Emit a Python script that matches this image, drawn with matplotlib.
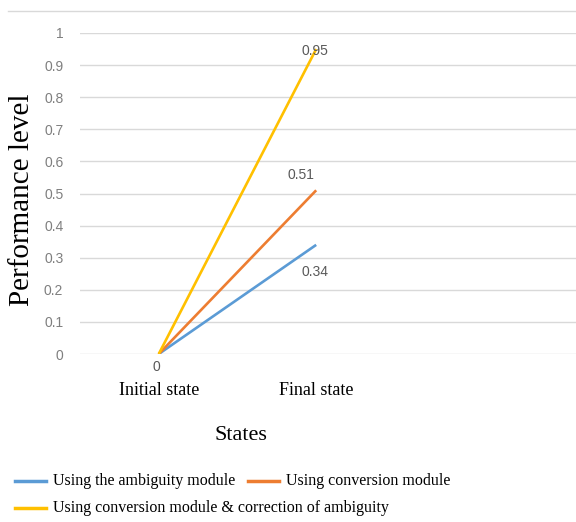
import matplotlib.pyplot as plt
from matplotlib.lines import Line2D

# data
states = ["Initial state", "Final state"]
ambiguity = [0, 0.34]
conversion = [0, 0.51]
conv_correction = [0, 0.95]
series_names = ["Using the ambiguity module",
                "Using conversion module",
                "Using conversion module & correction of ambiguity"]
colors = ["#5B9BD5", "#ED7D31", "#FFC000"]
yticks = [0, 0.1, 0.2, 0.3, 0.4, 0.5, 0.6, 0.7, 0.8, 0.9, 1]
ytick_labels = ["0", "0.1", "0.2", "0.3", "0.4", "0.5", "0.6", "0.7", "0.8", "0.9", "1"]

W, H = 576, 522
SERIF = ["Liberation Serif", "DejaVu Serif"]
NARROW = ["Liberation Sans Narrow", "Liberation Sans", "DejaVu Sans"]


def fx(x):
    return x / W


def fy(y):
    return 1 - y / H


fig = plt.figure(figsize=(W / 100, H / 100), dpi=100)
ax = fig.add_axes([fx(80), fy(354), fx(576) - fx(80), fy(33) - fy(354)])

x = range(len(states))
ax.plot(x, ambiguity, color=colors[0], lw=1.9, solid_capstyle="butt")
ax.plot(x, conversion, color=colors[1], lw=1.9, solid_capstyle="butt")
ax.plot(x, conv_correction, color=colors[2], lw=1.9, solid_capstyle="butt")

# value labels
lab_kw = dict(textcoords="offset pixels", ha="center", va="center",
              fontsize=10, color="#595959", family=NARROW)
ax.annotate("0", (0, 0), xytext=(-2, -13), **lab_kw)
ax.annotate(f"{conv_correction[1]:g}", (1, conv_correction[1]), xytext=(-1, -2), **lab_kw)
ax.annotate(f"{conversion[1]:g}", (1, conversion[1]), xytext=(-15, 15), **lab_kw)
ax.annotate(f"{ambiguity[1]:g}", (1, ambiguity[1]), xytext=(-1, -27), **lab_kw)

ax.set_xlim(-0.5, 2.65)
ax.set_ylim(0, 1)
ax.set_yticks(yticks)
ax.set_yticklabels(ytick_labels, family=NARROW, fontsize=10, color="#7f7f7f")
ax.set_xticks(list(x))
ax.set_xticklabels(states, family=SERIF, fontsize=13)
ax.tick_params(axis="y", length=0, pad=12)
ax.tick_params(axis="x", length=0, pad=20)
ax.grid(axis="y", color="#d9d9d9", lw=1)
ax.set_axisbelow(True)
for s in ax.spines.values():
    s.set_visible(False)

ax.set_xlabel("States", family=SERIF, fontsize=16)
ax.xaxis.set_label_coords(0.325, -0.225)
ax.set_ylabel("Performance level", family=SERIF, fontsize=21)
ax.yaxis.set_label_coords(-0.09, 0.48)

# frame line along the top
fig.add_artist(Line2D([fx(8), 1], [fy(11), fy(11)], color="#d9d9d9", lw=1))

# legend
entries = [(15, 481, 0), (248, 481, 1), (15, 508, 2)]
for lx, ly, i in entries:
    fig.add_artist(Line2D([fx(lx), fx(lx + 31)], [fy(ly), fy(ly)], color=colors[i], lw=2.5))
    fig.text(fx(lx + 38), fy(ly), series_names[i], family=SERIF, fontsize=11.5,
             va="center", ha="left")

fig.savefig("out.png", dpi=100)
